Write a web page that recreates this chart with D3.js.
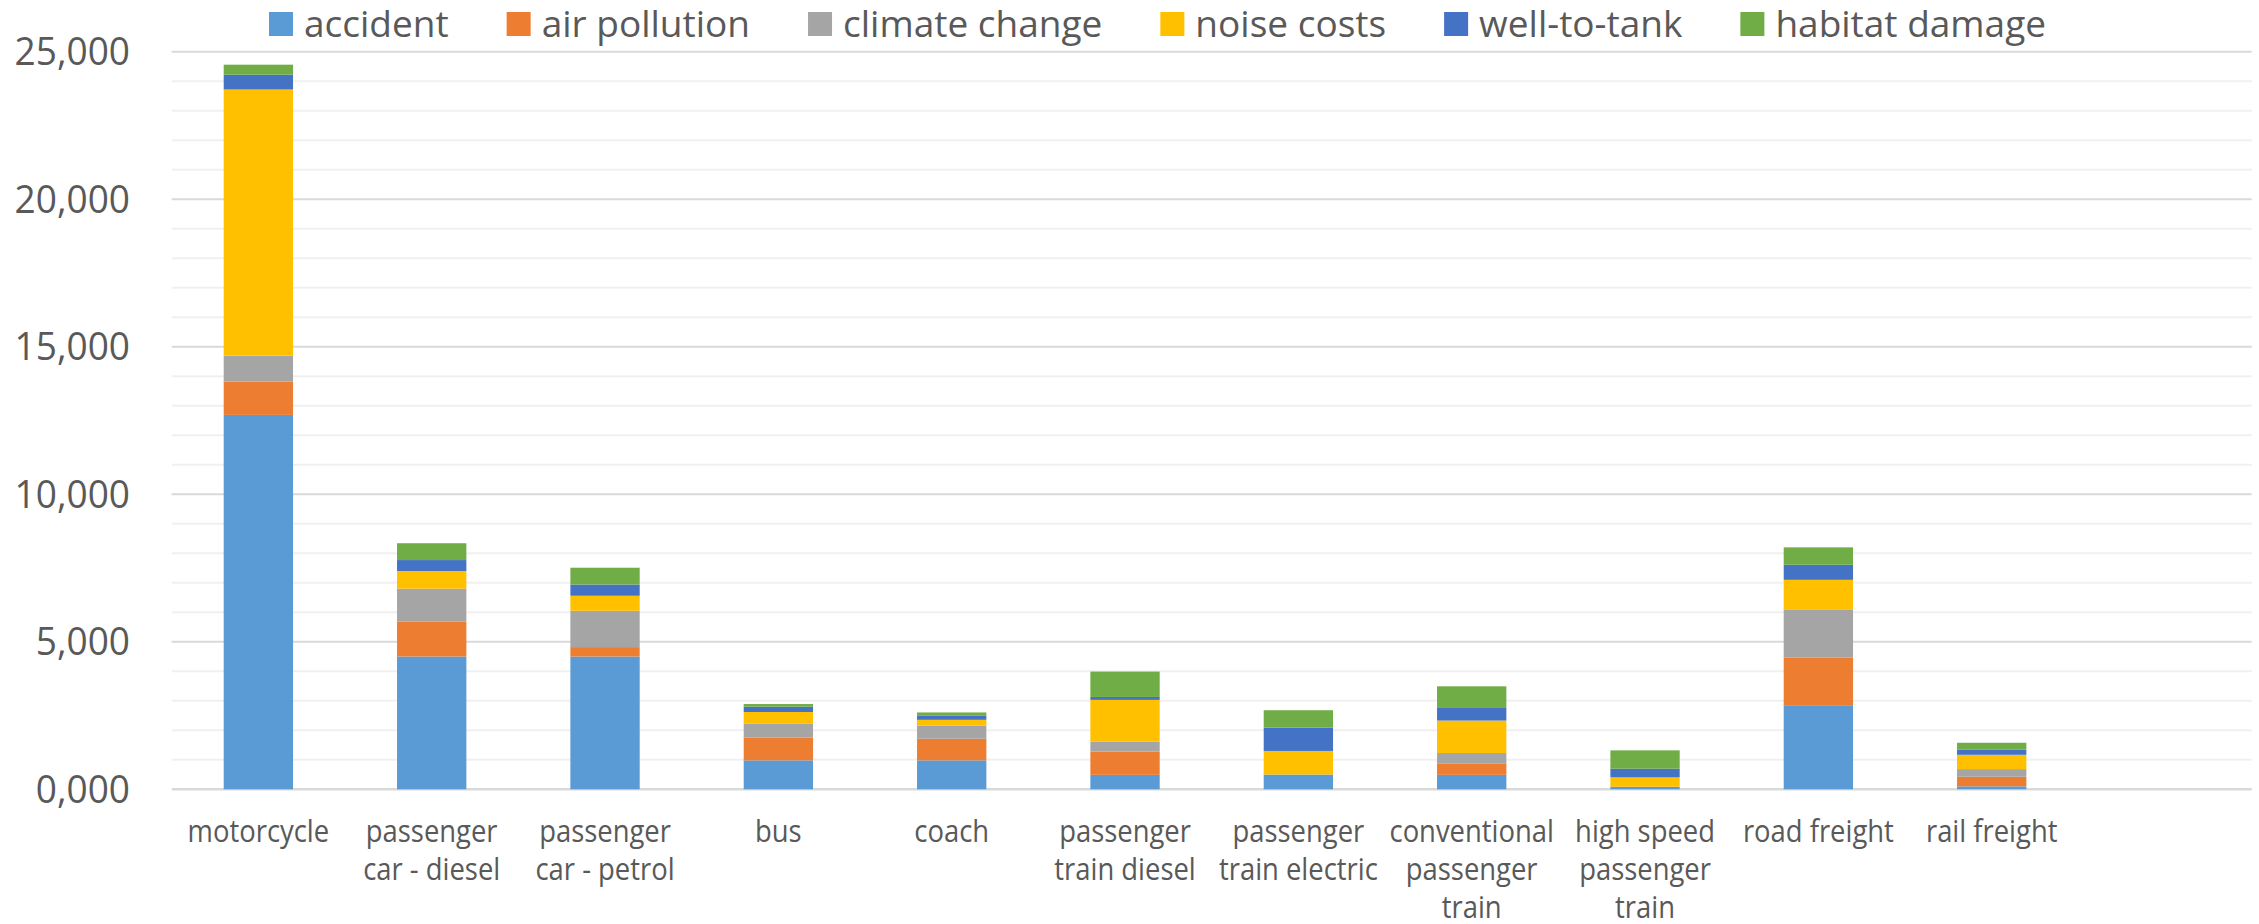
<!DOCTYPE html>
<html>
<head>
<meta charset="utf-8">
<script src="https://cdn.jsdelivr.net/npm/d3@7"></script>
<style>
  html, body { margin: 0; padding: 0; background: #ffffff; }
  svg { display: block; font-family: "Open Sans", sans-serif; }
</style>
</head>
<body>
<svg id="chart" width="2259" height="924"></svg>
<script>
// External costs per transport mode, stacked by cost category
const categories = [
  "motorcycle",
  "passenger car - diesel",
  "passenger car - petrol",
  "bus",
  "coach",
  "passenger train diesel",
  "passenger train electric",
  "conventional passenger train",
  "high speed passenger train",
  "road freight",
  "rail freight"
];

const seriesNames = ["accident", "air pollution", "climate change", "noise costs", "well-to-tank", "habitat damage"];
const seriesColors = ["#5B9BD5", "#ED7D31", "#A5A5A5", "#FFC000", "#4472C4", "#70AD47"];

const accident      = [12690, 4500, 4500, 980, 980, 490, 500, 490,  85, 2850, 100];
const airPollution  = [ 1130, 1190,  320, 770, 735, 790,   0, 390,   0, 1610, 325];
const climateChange = [  880, 1110, 1230, 470, 440, 340,   0, 350,   0, 1640, 260];
const noiseCosts    = [ 9020,  600,  510, 400, 200, 1410, 800, 1100, 320, 1000, 485];
const wellToTank    = [  500,  370,  380, 180, 150, 100, 790, 450, 292,  510, 170];
const habitatDamage = [  340,  570,  570,  90, 100, 860, 590, 710, 623,  590, 237];

const tickValues = [0, 5000, 10000, 15000, 20000, 25000];
const tickLabels = ["0,000", "5,000", "10,000", "15,000", "20,000", "25,000"];

const seriesValues = [accident, airPollution, climateChange, noiseCosts, wellToTank, habitatDamage];

// rows for d3.stack
const rows = categories.map((c, i) => {
  const r = { category: c };
  seriesNames.forEach((s, k) => { r[s] = seriesValues[k][i]; });
  return r;
});

const svg = d3.select("#chart");
const textColor = "#595959";

const plotLeft = 171.7, plotRight = 2251.7, plotTop = 51.7, plotBottom = 789.3;

const y = d3.scaleLinear().domain([0, 25000]).range([plotBottom, plotTop]);
// the category axis keeps one empty slot at its right end
const x = d3.scaleBand()
  .domain([...categories, ""])
  .range([plotLeft, plotRight])
  .paddingInner(0.6)
  .paddingOuter(0.3);

// gridlines: light every 1000, darker every 5000
const minorTicks = d3.range(1000, 25001, 1000).filter(v => v % 5000 !== 0);
svg.append("g").selectAll("line").data(minorTicks).join("line")
  .attr("x1", plotLeft).attr("x2", plotRight)
  .attr("y1", d => y(d)).attr("y2", d => y(d))
  .attr("stroke", "#f0f0f0").attr("stroke-width", 2);

svg.append("g").selectAll("line").data(tickValues).join("line")
  .attr("x1", plotLeft).attr("x2", plotRight)
  .attr("y1", d => y(d)).attr("y2", d => y(d))
  .attr("stroke", "#d9d9d9").attr("stroke-width", d => d === 0 ? 2.5 : 2);

// stacked bars
const stacked = d3.stack().keys(seriesNames)(rows);
svg.append("g").selectAll("g").data(stacked).join("g")
  .attr("fill", (d, i) => seriesColors[i])
  .selectAll("rect").data(d => d).join("rect")
  .attr("x", d => x(d.data.category))
  .attr("width", x.bandwidth())
  .attr("y", d => y(d[1]))
  .attr("height", d => Math.max(0, y(d[0]) - y(d[1])));

// value axis labels
const yAxis = d3.axisLeft(y)
  .tickValues(tickValues)
  .tickFormat((d, i) => tickLabels[i])
  .tickSize(0)
  .tickPadding(0);
const yAxisG = svg.append("g").attr("transform", "translate(130,0)").call(yAxis);
yAxisG.select(".domain").remove();
yAxisG.selectAll("text")
  .attr("x", 0)
  .attr("dy", "0.33em")
  .attr("transform", "scale(0.95,1)")
  .style("font-family", "'Open Sans', sans-serif")
  .style("font-size", "39px")
  .attr("fill", textColor);

// category labels, wrapped to the band width
const labelScale = 0.87;
const labelMax = 168;
const lineBase = 841.7, lineStep = 38.4;
const catG = svg.append("g");
categories.forEach(c => {
  const cx = x(c) + x.bandwidth() / 2;
  const t = catG.append("text")
    .attr("transform", `translate(${cx},0) scale(${labelScale},1)`)
    .attr("text-anchor", "middle")
    .style("font-size", "31.5px")
    .attr("fill", textColor);
  const words = c.split(" ");
  let lines = [];
  let current = [];
  const probe = t.append("tspan").attr("x", 0).attr("y", lineBase);
  words.forEach(w => {
    const trial = current.concat([w]).join(" ");
    probe.text(trial);
    if (current.length && probe.node().getComputedTextLength() * labelScale > labelMax) {
      lines.push(current.join(" "));
      current = [w];
    } else {
      current.push(w);
    }
  });
  lines.push(current.join(" "));
  probe.remove();
  lines.forEach((ln, i) => {
    t.append("tspan").attr("x", 0).attr("y", lineBase + i * lineStep).text(ln);
  });
});

// legend
const legendG = svg.append("g");
let lx = 269;
seriesNames.forEach((s, i) => {
  legendG.append("rect")
    .attr("x", lx).attr("y", 12)
    .attr("width", 24).attr("height", 24)
    .attr("fill", seriesColors[i]);
  const t = legendG.append("text")
    .attr("x", lx + 35).attr("y", 36.5)
    .style("font-size", "37px")
    .attr("fill", textColor)
    .text(s);
  lx = lx + 35 + t.node().getComputedTextLength() + 58;
});
</script>
</body>
</html>
